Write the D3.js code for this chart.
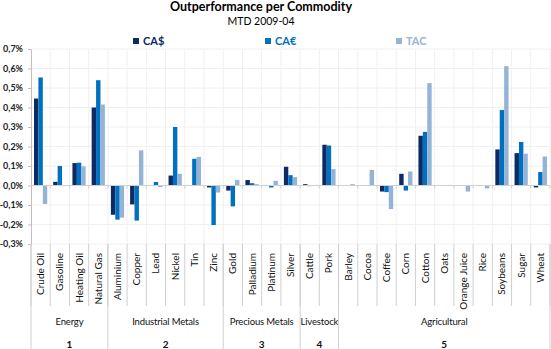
<!DOCTYPE html>
<html>
<head>
<meta charset="utf-8">
<script src="https://cdn.jsdelivr.net/npm/d3@7"></script>
<style>
  body { margin: 0; background: #fff; }
  svg { font-family: Lato, "Open Sans", sans-serif; display: block; }
</style>
</head>
<body>
<div id="canvas"></div>
<script>
// data (values in %)
var categories = ["Crude Oil","Gasoline","Heating Oil","Natural Gas","Aluminium","Copper","Lead","Nickel","Tin","Zinc",
  "Gold","Palladium","Platinum","Silver","Cattle","Pork","Barley","Cocoa","Coffee","Corn","Cotton","Oats",
  "Orange Juice","Rice","Soybeans","Sugar","Wheat"];
var sectors = ["Energy","Industrial Metals","Precious Metals","Livestock","Agricultural"];
var sectorNums = ["1","2","3","4","5"];
var sectorSizes = [4,6,4,2,11];
var seriesNames = ["CA$","CA€","TAC"];
var caUSD = [0.446,0.019,0.115,0.400,-0.150,-0.097,0,0.051,0,-0.010,-0.026,0.028,-0.002,0.096,0.007,0.209,0,0,-0.031,0.060,0.255,0,0,0,0.185,0.166,-0.010];
var caEUR = [0.554,0.100,0.117,0.540,-0.175,-0.180,0.018,0.300,0.137,-0.203,-0.107,0.012,-0.010,0.053,-0.003,0.205,0,0,-0.034,-0.026,0.275,0,0,0,0.387,0.223,0.069];
var tac   = [-0.095,-0.003,0.098,0.415,-0.165,0.180,-0.008,0.060,0.147,-0.036,0.028,0.007,0.024,0.043,-0.002,0.084,0.007,0.080,-0.121,0.072,0.525,0.003,-0.031,-0.015,0.612,0.163,0.149];
var yTicks = [-0.3,-0.2,-0.1,0,0.1,0.2,0.3,0.4,0.5,0.6,0.7];

var colors = ["#0c2a66","#0070c0","#95b3d7"];
var W = 551, H = 349;
var m = {t:49, r:1, b:105, l:31};
var w = W - m.l - m.r, h = H - m.t - m.b;

var svg = d3.select('#canvas').append('svg')
  .attr('width', W).attr('height', H);

// title
svg.append('text').attr('x', 261).attr('y', 10.5).attr('text-anchor','middle')
  .style('font-size','12.5px').style('font-weight','bold').text('Outperformance per Commodity');
svg.append('text').attr('x', 261).attr('y', 24.5).attr('text-anchor','middle')
  .style('font-size','10.5px').text('MTD 2009-04');

// legend
var legX = [133, 265, 396];
seriesNames.forEach(function(s,i){
  var g = svg.append('g').attr('transform','translate(' + legX[i] + ',38)');
  g.append('rect').attr('width',6).attr('height',6).attr('fill',colors[i]);
  g.append('text').attr('x',10).attr('y',6.5).attr('fill',colors[i])
    .style('font-size','11px').style('font-weight','bold').text(s);
});

var plot = svg.append('g').attr('transform','translate(' + m.l + ',' + m.t + ')');

var x = d3.scaleBand().domain(categories).range([0, w]).padding(0);
var xs = d3.scaleBand().domain(seriesNames).range([0, x.bandwidth()]).paddingInner(0).paddingOuter(0.68);
var y = d3.scaleLinear().domain([-0.3, 0.7]).range([h, 0]);

var loc = d3.formatLocale({decimal:",", thousands:".", grouping:[3], currency:["","%"], minus:"-"});
var fmt = loc.format(".1f");

// gridlines
plot.append('g').selectAll('line').data(yTicks).enter().append('line')
  .attr('x1',0).attr('x2',w).attr('y1',function(d){return y(d);}).attr('y2',function(d){return y(d);})
  .attr('stroke','#f0f0f0');
plot.append('g').selectAll('line').data(categories).enter().append('line')
  .attr('x1',function(d){return x(d) + x.bandwidth();}).attr('x2',function(d){return x(d) + x.bandwidth();})
  .attr('y1',0).attr('y2',h).attr('stroke','#f0f0f0');

// y axis
var axisY = d3.axisLeft(y).tickValues(yTicks).tickSize(3).tickFormat(function(d){ return fmt(d) + '%'; });
var gy = plot.append('g').attr('class','axis-y').call(axisY);
gy.select('.domain').attr('stroke','#bfbfbf');
gy.selectAll('.tick line').attr('stroke','#bfbfbf');
gy.selectAll('text').attr('x',-8).style('font-size','9px').style('font-weight','bold')
  .style('font-family','Lato, sans-serif').attr('fill','#222');

// bars
var series = [caUSD, caEUR, tac];
series.forEach(function(vals, si){
  plot.append('g').selectAll('rect').data(vals).enter().append('rect')
    .attr('x', function(d,i){ return x(categories[i]) + xs(seriesNames[si]); })
    .attr('width', xs.bandwidth())
    .attr('y', function(d){ return y(Math.max(0,d)); })
    .attr('height', function(d){ return Math.abs(y(d) - y(0)); })
    .attr('fill', colors[si]);
});

// zero line with ticks
plot.append('line').attr('x1',0).attr('x2',w).attr('y1',y(0)).attr('y2',y(0)).attr('stroke','#d0d0d0');
plot.append('g').selectAll('line').data(categories).enter().append('line')
  .attr('x1',function(d){return x(d) + x.bandwidth();}).attr('x2',function(d){return x(d) + x.bandwidth();})
  .attr('y1',y(0)).attr('y2',y(0)+3).attr('stroke','#d0d0d0');

// category axis below the plot
var cat = svg.append('g').attr('transform','translate(' + m.l + ',' + (m.t + h) + ')');
var catH = 62;
cat.selectAll('line.sep').data(categories).enter().append('line').attr('class','sep')
  .attr('x1',function(d){return x(d);}).attr('x2',function(d){return x(d);})
  .attr('y1',0).attr('y2',catH).attr('stroke','#d0d0d0');
cat.append('line').attr('x1',w).attr('x2',w).attr('y1',0).attr('y2',catH).attr('stroke','#d0d0d0');
cat.selectAll('text.cat').data(categories).enter().append('text').attr('class','cat')
  .attr('transform',function(d){ return 'translate(' + (x(d) + x.bandwidth()/2 + 3.5) + ',9) rotate(-90)'; })
  .attr('text-anchor','end').style('font-size','10px').attr('fill','#111').text(function(d){return d;});

// sector levels
var start = 0;
sectors.forEach(function(s,i){
  var x0 = x(categories[start]);
  var x1 = x(categories[start + sectorSizes[i] - 1]) + x.bandwidth();
  cat.append('line').attr('x1',x0).attr('x2',x0).attr('y1',0).attr('y2',H).attr('stroke','#d0d0d0');
  cat.append('text').attr('x',(x0+x1)/2).attr('y',80.5).attr('text-anchor','middle')
    .style('font-size','9.5px').style('letter-spacing','-0.15px').attr('fill','#111').text(s);
  cat.append('text').attr('x',(x0+x1)/2).attr('y',104).attr('text-anchor','middle')
    .style('font-size','10px').style('font-weight','bold').attr('fill','#111').text(sectorNums[i]);
  start += sectorSizes[i];
});
cat.append('line').attr('x1',w).attr('x2',w).attr('y1',0).attr('y2',H).attr('stroke','#d0d0d0');
</script>
</body>
</html>
